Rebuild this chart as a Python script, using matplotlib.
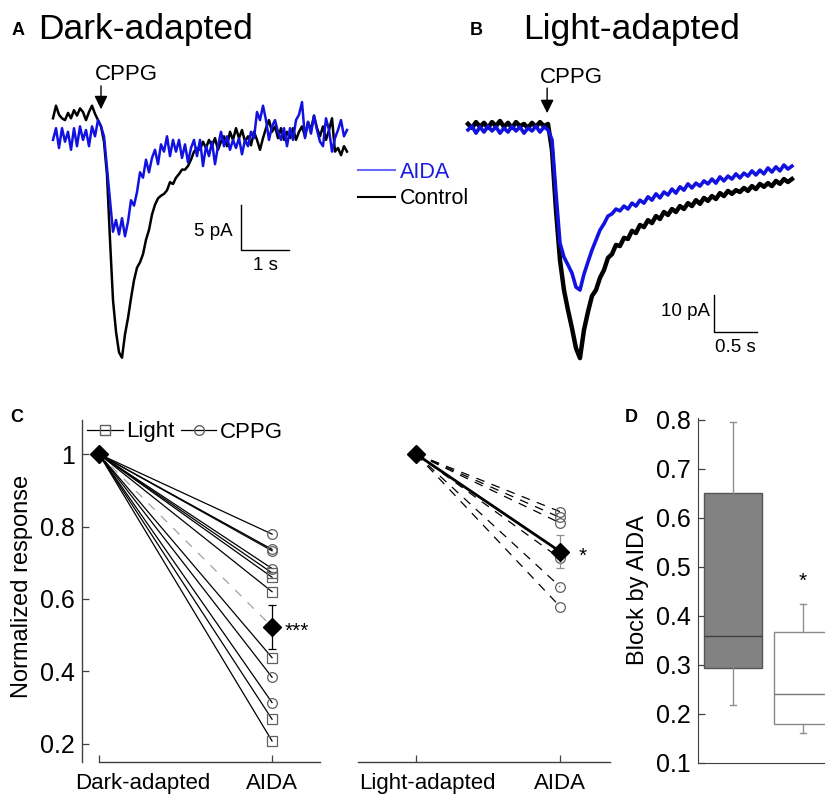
import numpy as np
import matplotlib.pyplot as plt
from matplotlib.lines import Line2D
from matplotlib.transforms import ScaledTranslation

plt.rcParams['font.family'] = ['Liberation Sans', 'DejaVu Sans']

# ---------------- data ----------------
# A: dark-adapted whole-cell currents (pA), one sample every 62.5 ms
dark_dt = 0.0625
dark_control = [1.3, 2.7, 1.7, 1.3, 1.1, 1.9, 1.3, 2.2, 1.6, 2.4, 2.0, 1.1, 2.0, 2.7, 1.8, 1.1,
                0.4, -1.3, -5.0, -12.2, -18.9, -22.4, -24.7, -25.3, -22.7, -20.9, -18.7, -16.7,
                -15.3, -14.7, -13.8, -12.2, -11.1, -9.4, -8.3, -7.6, -7.3, -7.1, -6.7, -5.8, -6.0,
                -5.3, -4.9, -4.4, -4.4, -4.0, -3.3, -2.4, -2.0, -2.2, -1.3, -2.0, -1.1, -1.8, -0.9,
                -2.2, -1.3, -0.7, -1.8, -0.2, -1.1, 0.2, -0.9, 0.0, -1.3, -0.7, -1.7, -0.2, -1.1,
                -2.2, -0.9, 0.2, 1.1, -0.2, 0.4, -0.9, 0.2, -1.1, -0.2, -0.9, 0.2, -1.1, -0.2, 0.4,
                -0.7, 0.9, 0.0, 1.6, 0.2, -0.7, 0.4, -1.1, 0.0, 1.3, -2.4, -2.0, -2.8, -1.8, -2.4]
dark_aida = [-1.1, 0.2, -2.0, 0.2, -1.3, -0.2, -2.2, 0.2, -1.8, 0.4, -1.1, 0.0, -1.8, 0.4, -0.7,
             1.1, 0.4, -0.7, -4.2, -7.8, -11.3, -10.0, -11.6, -9.8, -11.8, -10.2, -7.8, -8.4, -6.9,
             -4.7, -5.3, -3.3, -4.7, -3.1, -2.2, -3.8, -1.6, -2.4, -0.7, -2.9, -1.1, -2.4, -1.1,
             -3.1, -1.6, -3.6, -2.0, -1.1, -2.9, -1.1, -4.0, -1.8, -2.9, -1.3, -3.8, -1.8, -0.2,
             -1.8, -0.7, -2.2, -1.1, -2.0, -0.9, -2.7, -1.1, -1.8, -0.2, -0.9, 2.0, 1.1, 2.7, 1.1,
             -1.1, 0.4, 1.1, -0.2, -1.1, 0.2, -1.8, 0.2, -1.1, 1.1, 1.7, 3.1, -0.9, 0.9, -0.4, 1.6,
             0.0, -1.3, -1.8, 1.3, 0.0, -2.4, -0.9, 0.0, 1.1, -0.7, 0.0]

# B: light-adapted whole-cell currents (pA), one sample every ~46.5 ms
light_dt = 0.0465
light_control = [1.1, 0.0, 1.6, 0.3, 1.4, 0.0, 1.6, 0.5, 1.9, 0.3, 1.4, 0.0, 1.6, 0.5, 1.1, 0.0,
                 1.4, 0.3, 1.6, 0.5, 1.1, -5.9, -22.2, -35.7, -43.8, -49.2, -54.1, -59.5, -62.2,
                 -54.6, -49.7, -45.4, -43.8, -40.5, -38.4, -35.1, -34.1, -31.6, -31.9, -29.7, -30.0,
                 -27.8, -28.4, -26.2, -26.8, -24.9, -25.7, -23.8, -24.6, -22.7, -23.5, -21.9, -22.7,
                 -21.1, -21.9, -20.3, -21.1, -19.5, -20.5, -18.9, -19.7, -18.4, -19.2, -17.6, -18.4,
                 -17.0, -17.8, -16.8, -17.3, -16.2, -17.0, -15.7, -16.5, -15.1, -15.9, -14.9, -15.7,
                 -14.3, -15.1, -13.8, -14.6, -13.8]
light_aida = [-0.5, 0.5, -1.4, 0.3, -1.1, 0.5, -0.8, 0.3, -1.4, 0.0, -1.1, 0.5, -0.8, 0.3, -1.4,
              0.0, -0.8, 0.5, -1.1, 0.3, -0.5, -3.2, -17.6, -31.1, -34.9, -37.0, -39.2, -43.0,
              -43.8, -39.5, -36.2, -33.0, -30.3, -27.6, -25.9, -23.8, -23.2, -21.9, -22.4, -21.1,
              -21.9, -20.3, -21.1, -19.5, -20.3, -18.6, -19.5, -17.8, -18.9, -17.3, -18.1, -16.5,
              -17.6, -15.9, -16.8, -15.1, -16.2, -14.9, -15.7, -14.3, -15.1, -13.8, -14.9, -13.2,
              -14.3, -13.0, -13.8, -12.4, -13.5, -12.2, -13.0, -11.6, -12.7, -11.4, -12.4, -10.8,
              -11.9, -10.5, -11.6, -10.0, -11.1, -10.3]
cppg_time_dark = 1.0
cppg_time_light = 0.92

# C: normalized responses after AIDA
c_dark_labels = ['Dark-adapted', 'AIDA']
c_dark_light = [0.672, 0.660, 0.620, 0.438, 0.268, 0.208]
c_dark_cppg = [0.779, 0.737, 0.733, 0.684, 0.384, 0.314]
c_dark_mean, c_dark_sem = 0.523, 0.060
c_light_labels = ['Light-adapted', 'AIDA']
c_light_cppg = [0.841, 0.825, 0.810, 0.712, 0.634, 0.579]
c_light_mean, c_light_sem = 0.731, 0.045

# D: block by AIDA (box summary)
d_med = [0.359, 0.240]
d_q1 = [0.293, 0.180]
d_q3 = [0.650, 0.367]
d_lo = [0.218, 0.161]
d_hi = [0.795, 0.424]

# ---------------- figure ----------------
W, H = 825, 796
fig = plt.figure(figsize=(W / 100, H / 100), dpi=100)


def px_axes(l, t, r, b):
    return fig.add_axes([l / W, 1 - b / H, (r - l) / W, (b - t) / H])


blue = '#1212e0'
spine_c = '#404040'

# ---- A ----
axA = px_axes(45, 60, 355, 375)
t = np.arange(len(dark_control)) * dark_dt
axA.plot(t, dark_control, color='k', lw=1.8)
axA.plot(t, dark_aida, color=blue, lw=1.8)
axA.set_xlim(-8 / 48, 302 / 48)
axA.set_ylim(-245 / 9, 70 / 9)
axA.axis('off')
axA.annotate('', xy=(cppg_time_dark, 2.3), xytext=(cppg_time_dark, 4.9),
             arrowprops=dict(arrowstyle='-|>,head_length=0.45,head_width=0.22',
                             color='k', lw=1, mutation_scale=18, shrinkA=0, shrinkB=0))
axA.text(cppg_time_dark - 0.12, 5.55, 'CPPG', fontsize=16, ha='left', va='baseline')
# scale bar 5 pA / 1 s
axA.plot([3.917, 3.917, 4.917], [-8.33, -13.33, -13.33], color='k', lw=1)
axA.text(3.75, -11.3, '5 pA', fontsize=13.5, ha='right', va='center')
axA.text(4.417, -15.1, '1 s', fontsize=13.5, ha='center', va='center')

fig.legend([Line2D([], [], color='#6a6aff', lw=1.5), Line2D([], [], color='k', lw=1.5)],
           ['AIDA', 'Control'], loc='upper left', bbox_to_anchor=(358 / W, 1 - 162 / H),
           frameon=False, borderaxespad=0, borderpad=0, handlelength=1.7, handletextpad=0.25,
           labelspacing=0.25, fontsize=15.5, labelcolor=['#1a1ae0', 'k'])

# ---- B ----
axB = px_axes(455, 60, 800, 375)
t = np.arange(len(light_control)) * light_dt
axB.plot(t, light_control, color='k', lw=3.2)
axB.plot(t, light_aida, color=blue, lw=2.6)
axB.set_xlim(-13 / 86, 332 / 86)
axB.set_ylim(-247 / 3.7, 68 / 3.7)
axB.axis('off')
axB.annotate('', xy=(cppg_time_light, 4.0), xytext=(cppg_time_light, 10.8),
             arrowprops=dict(arrowstyle='-|>,head_length=0.45,head_width=0.22',
                             color='k', lw=1, mutation_scale=18, shrinkA=0, shrinkB=0))
axB.text(cppg_time_light - 0.08, 12.2, 'CPPG', fontsize=16, ha='left', va='baseline')
axB.plot([2.860, 2.860, 3.360], [-45.1, -55.1, -55.1], color='k', lw=1)
axB.text(2.814, -49.7, '10 pA', fontsize=13.5, ha='right', va='center')
axB.text(3.11, -59.2, '0.5 s', fontsize=13.5, ha='center', va='center')

# titles
fig.text(12 / W, 1 - 35 / H, 'A', fontsize=13, fontweight='bold', va='baseline')
fig.text(38 / W, 1 - 39 / H, 'Dark-adapted', fontsize=25.5, va='baseline')
fig.text(470 / W, 1 - 35 / H, 'B', fontsize=13, fontweight='bold', va='baseline')
fig.text(523 / W, 1 - 39 / H, 'Light-adapted', fontsize=25.5, va='baseline')

# ---- C ----
ylim_c = (0.150, 1.094)
open_kw = dict(mfc='none', mec='#606060', mew=0.9, ms=7, ls='none')

axC1 = px_axes(82, 420, 320, 762)
for v in c_dark_light + c_dark_cppg:
    axC1.plot([1, 2], [1, v], color='k', lw=0.9)
axC1.plot([1, 2], [1, c_dark_mean], color='#a0a0a0', lw=0.9, dashes=(7, 7))
axC1.plot([2] * len(c_dark_light), c_dark_light, marker='s', **open_kw)
axC1.plot([2] * len(c_dark_cppg), c_dark_cppg, marker='o', **open_kw)
axC1.errorbar([2], [c_dark_mean], yerr=[c_dark_sem], color='k', lw=0.9, capsize=3, capthick=0.9)
axC1.plot([1, 2], [1, c_dark_mean], ls='none', marker='D', color='k', ms=9)
axC1.text(2.075, c_dark_mean - 0.012, '***', fontsize=15, ha='left', va='center')

axC1.set_xlim(0.902, 2.277)
axC1.set_ylim(*ylim_c)
axC1.set_yticks([0.2, 0.4, 0.6, 0.8, 1.0], ['0.2', '0.4', '0.6', '0.8', '1'])
axC1.set_xticks([1, 2], c_dark_labels)
axC1.spines[['top', 'right']].set_visible(False)
axC1.spines['bottom'].set_bounds(1, 2.277)

axC2 = px_axes(358, 420, 610, 762)
for v in c_light_cppg:
    axC2.plot([1, 2], [1, v], color='k', lw=0.9, dashes=(7, 6))
axC2.plot([2] * len(c_light_cppg), c_light_cppg, marker='o', **open_kw)
axC2.errorbar([2], [c_light_mean], yerr=[c_light_sem], color='#909090', lw=0.9, capsize=3,
              capthick=0.9)
axC2.plot([1, 2], [1, c_light_mean], color='k', lw=2, marker='D', ms=9)
axC2.text(2.16, c_light_mean - 0.012, '*', fontsize=15, ha='center', va='center')
axC2.set_xlim(0.597, 2.347)
axC2.set_ylim(*ylim_c)
axC2.set_yticks([])
axC2.set_xticks([1, 2], c_light_labels)
axC2.spines[['top', 'right', 'left']].set_visible(False)

for ax in (axC1, axC2):
    for s in ax.spines.values():
        s.set_color(spine_c)
        s.set_linewidth(1)
    ax.tick_params(direction='in', length=5, width=0.9, color=spine_c)
    ax.tick_params(axis='y', labelsize=18, pad=5)
    ax.tick_params(axis='x', labelsize=16, pad=8)

# shift the left-hand tick labels like the original
lab = axC1.get_xticklabels()[0]
lab.set_transform(lab.get_transform() + ScaledTranslation(0.44, 0, fig.dpi_scale_trans))
lab = axC2.get_xticklabels()[0]
lab.set_transform(lab.get_transform() + ScaledTranslation(0.11, 0, fig.dpi_scale_trans))

leg_handles = [Line2D([], [], color='k', lw=0.9, marker='s', mfc='none', mec='#606060', ms=7),
               Line2D([], [], color='k', lw=0.9, marker='o', mfc='none', mec='#606060', ms=7)]
fig.legend(leg_handles, ['Light', 'CPPG'], ncol=2, loc='center left',
           bbox_to_anchor=(87 / W, 1 - 432 / H), frameon=False, borderaxespad=0, borderpad=0,
           handlelength=1.6, handletextpad=0.15, columnspacing=0.3, fontsize=16)

fig.text(10 / W, 1 - 422 / H, 'C', fontsize=13, fontweight='bold', va='baseline')
fig.text(22 / W, 1 - 586 / H, 'Normalized response', fontsize=17, rotation=90,
         ha='center', va='center')

# ---- D ----
axD = px_axes(698, 418, 900, 763)
stats = [dict(med=d_med[i], q1=d_q1[i], q3=d_q3[i], whislo=d_lo[i], whishi=d_hi[i], fliers=[])
         for i in range(2)]
bp = axD.bxp(stats, positions=[1, 2], widths=0.82, patch_artist=True, showfliers=False,
             capwidths=0.08,
             boxprops=dict(edgecolor='#707070', linewidth=1),
             medianprops=dict(color='#404040', linewidth=1),
             whiskerprops=dict(color='#909090', linewidth=1),
             capprops=dict(color='#909090', linewidth=1))
bp['boxes'][0].set_facecolor('#828282')
bp['boxes'][0].set_edgecolor('#555555')
bp['boxes'][1].set_facecolor('white')
bp['boxes'][1].set_edgecolor('#888888')
bp['medians'][1].set_color('#777777')
axD.text(2, 0.47, '*', fontsize=15, ha='center', va='center')
axD.set_xlim(0.5, 3.386)
axD.set_ylim(0.1, 0.804)
axD.set_yticks([0.1, 0.2, 0.3, 0.4, 0.5, 0.6, 0.7, 0.8])
axD.set_xticks([])
axD.spines[['top', 'right']].set_visible(False)
for s in axD.spines.values():
    s.set_color(spine_c)
axD.tick_params(direction='in', length=5, width=0.9, color=spine_c, labelsize=18, pad=5)

fig.text(625 / W, 1 - 422 / H, 'D', fontsize=13, fontweight='bold', va='baseline')
fig.text(638 / W, 1 - 590 / H, 'Block by AIDA', fontsize=17, rotation=90,
         ha='center', va='center')

fig.savefig('out.png', dpi=100)
